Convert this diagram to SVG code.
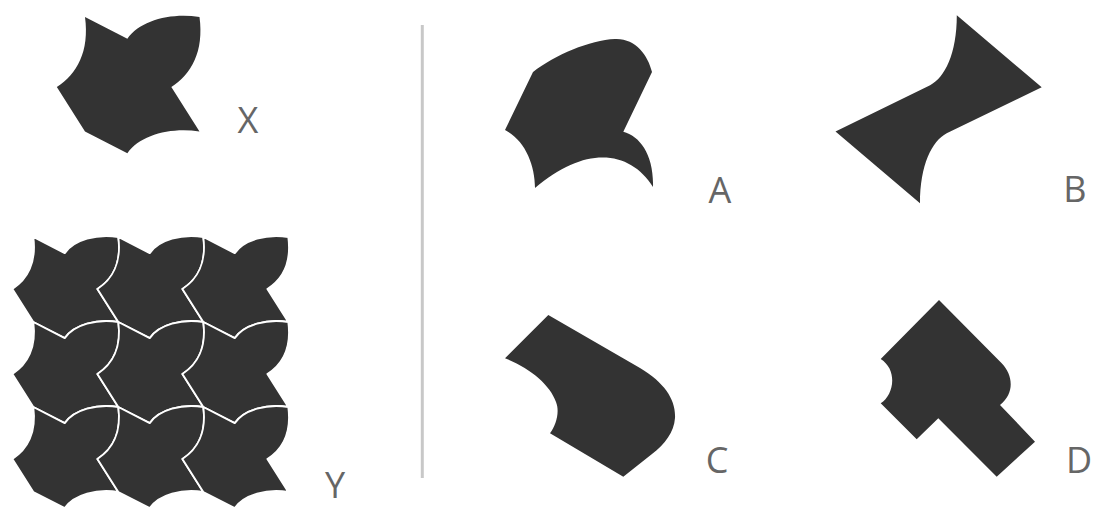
<svg xmlns="http://www.w3.org/2000/svg" xmlns:xlink="http://www.w3.org/1999/xlink" width="1096" height="518" viewBox="0 0 1096 518">
  <style>
    .shape { fill: #333333; }
    .tile { fill: #333333; stroke: #ffffff; stroke-width: 2.2; stroke-linejoin: round; }
    .label { font-family: "Open Sans", "Liberation Sans", sans-serif; font-weight: 400; font-size: 36px; fill: #666666; text-anchor: middle; }
    .divider { stroke: #c8c8c8; stroke-width: 3; }
  </style>
  <defs>
    <path id="tileShape" d="M0,0 L37,19 C48,3 75,-4 100,0 C104,30 93,50 75.4,61.1 L100,100 C75,96 48,103 37,119 L0,100 L-24.6,61.1 C-7,50 4,30 0,0 Z"/>
  </defs>
  <rect x="0" y="0" width="1096" height="518" fill="#ffffff"/>

  <g id="shape-X">
    <use xlink:href="#tileShape" class="shape" transform="translate(85,17) scale(1.145)"/>
    <text class="label" x="248" y="133">X</text>
  </g>

  <g id="tiling-Y">
    <g transform="translate(33.3,237) scale(0.85)">
      <use xlink:href="#tileShape" class="tile" transform="translate(0,0)"/>
      <use xlink:href="#tileShape" class="tile" transform="translate(100,0)"/>
      <use xlink:href="#tileShape" class="tile" transform="translate(200,0)"/>
      <use xlink:href="#tileShape" class="tile" transform="translate(0,100)"/>
      <use xlink:href="#tileShape" class="tile" transform="translate(100,100)"/>
      <use xlink:href="#tileShape" class="tile" transform="translate(200,100)"/>
      <use xlink:href="#tileShape" class="tile" transform="translate(0,200)"/>
      <use xlink:href="#tileShape" class="tile" transform="translate(100,200)"/>
      <use xlink:href="#tileShape" class="tile" transform="translate(200,200)"/>
    </g>
    <text class="label" x="335" y="498">Y</text>
  </g>

  <line id="divider" class="divider" x1="422.3" y1="25" x2="422.3" y2="478"/>

  <g id="shape-A">
    <path class="shape" d="M533,72 C555,55 590,40 615,39 C635,38 648,55 652,72 L623.3,131.7 C640,136 654,155 653,187 C630,150 585,145 535,188 C535,165 525,140 505,130 Z"/>
    <text class="label" x="720" y="203">A</text>
  </g>

  <g id="shape-B">
    <path class="shape" d="M956.8,15.3 L1041.7,87.3 L946.7,133.3 C932,141 920,165 920,203.3 L835.5,131.5 L930.1,85.3 C944.8,77.6 956.8,53.6 956.8,15.3 Z"/>
    <text class="label" x="1075" y="202">B</text>
  </g>

  <g id="shape-C">
    <path class="shape" d="M548.3,315 L640,368 C665,383 676,400 675,418 C674,432 665,444 652,454 L623.3,476.7 L550,433.3 C556,425 560,412 556,402 C550,385 530,368 505,358.3 Z"/>
    <text class="label" x="717" y="473">C</text>
  </g>

  <g id="shape-D">
    <path class="shape" d="M939,300 L1001.7,363.3 C1013,375 1015,393 1000,405 L1035,441.7 L996.7,476.7 L938.3,418.3 L916.7,439.3 L880.7,403.3 C894,395 898,370 880.7,359 Z"/>
    <text class="label" x="1079" y="473">D</text>
  </g>
</svg>
